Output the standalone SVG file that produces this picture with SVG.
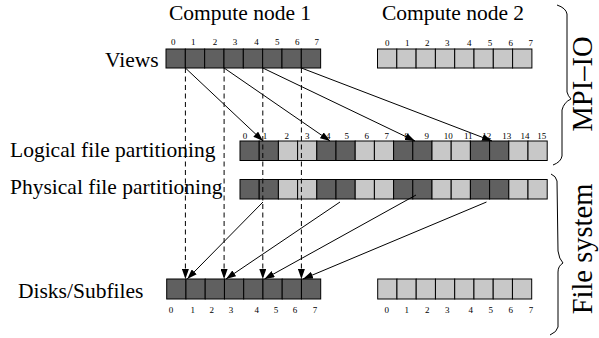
<svg xmlns="http://www.w3.org/2000/svg" width="599" height="338" viewBox="0 0 599 338">
<defs>
<marker id="ah" markerUnits="userSpaceOnUse" markerWidth="10" markerHeight="7" refX="10" refY="3.5" orient="auto">
<path d="M0,0 L10,3.5 L0,7 z" fill="#000"/>
</marker>
<style>
.d{fill:#606060;stroke:#000;stroke-width:1}
.l{fill:#c8c8c8;stroke:#000;stroke-width:1}
.t{font-family:"Liberation Serif","Times New Roman",serif;font-size:21.5px;fill:#000}
.n{font-family:"Liberation Serif","Times New Roman",serif;font-size:9px;fill:#000;text-anchor:middle}
.big{font-family:"Liberation Serif","Times New Roman",serif;font-size:28.5px;fill:#000;text-anchor:middle}
.c{fill:none;stroke:#000;stroke-width:1}
.dash{fill:none;stroke:#000;stroke-width:1;stroke-dasharray:5,3.5}
.br{fill:none;stroke:#000;stroke-width:1}
</style>
</defs>
<rect width="599" height="338" fill="#fff"/>

<g id="title1"><text class="t" x="169" y="20">Compute node 1</text></g>
<g id="title2"><text class="t" x="382" y="20">Compute node 2</text></g>

<g id="views1">
<text class="t" x="105" y="66.5">Views</text>
<rect class="d" x="166" y="49" width="19.33" height="19"/>
<rect class="d" x="185.33" y="49" width="19.33" height="19"/>
<rect class="d" x="204.66" y="49" width="19.33" height="19"/>
<rect class="d" x="223.99" y="49" width="19.33" height="19"/>
<rect class="d" x="243.32" y="49" width="19.33" height="19"/>
<rect class="d" x="262.65" y="49" width="19.33" height="19"/>
<rect class="d" x="281.98" y="49" width="19.33" height="19"/>
<rect class="d" x="301.31" y="49" width="19.33" height="19"/>
<text class="n" x="173.3" y="44.5">0</text><text class="n" x="193.3" y="44.5">1</text><text class="n" x="215" y="44.5">2</text><text class="n" x="235" y="44.5">3</text><text class="n" x="256.5" y="44.5">4</text><text class="n" x="277.3" y="44.5">5</text><text class="n" x="297.3" y="44.5">6</text><text class="n" x="316.7" y="44.5">7</text>
</g>

<g id="views2">
<rect class="l" x="377.5" y="49" width="19.3" height="19"/>
<rect class="l" x="396.8" y="49" width="19.3" height="19"/>
<rect class="l" x="416.1" y="49" width="19.3" height="19"/>
<rect class="l" x="435.4" y="49" width="19.3" height="19"/>
<rect class="l" x="454.7" y="49" width="19.3" height="19"/>
<rect class="l" x="474" y="49" width="19.3" height="19"/>
<rect class="l" x="493.3" y="49" width="19.3" height="19"/>
<rect class="l" x="512.6" y="49" width="19.3" height="19"/>
<text class="n" x="387.3" y="46">0</text><text class="n" x="407.3" y="46">1</text><text class="n" x="427.3" y="46">2</text><text class="n" x="447.3" y="46">3</text><text class="n" x="469.3" y="46">4</text><text class="n" x="490" y="46">5</text><text class="n" x="510.7" y="46">6</text><text class="n" x="530.7" y="46">7</text>
</g>

<g id="logical">
<text class="t" x="10" y="156.7">Logical file partitioning</text>
<rect class="d" x="240" y="141" width="19.2" height="19.5"/>
<rect class="d" x="259.2" y="141" width="19.2" height="19.5"/>
<rect class="l" x="278.4" y="141" width="19.2" height="19.5"/>
<rect class="l" x="297.6" y="141" width="19.2" height="19.5"/>
<rect class="d" x="316.8" y="141" width="19.2" height="19.5"/>
<rect class="d" x="336" y="141" width="19.2" height="19.5"/>
<rect class="l" x="355.2" y="141" width="19.2" height="19.5"/>
<rect class="l" x="374.4" y="141" width="19.2" height="19.5"/>
<rect class="d" x="393.6" y="141" width="19.2" height="19.5"/>
<rect class="d" x="412.8" y="141" width="19.2" height="19.5"/>
<rect class="l" x="432" y="141" width="19.2" height="19.5"/>
<rect class="l" x="451.2" y="141" width="19.2" height="19.5"/>
<rect class="d" x="470.4" y="141" width="19.2" height="19.5"/>
<rect class="d" x="489.6" y="141" width="19.2" height="19.5"/>
<rect class="l" x="508.8" y="141" width="19.2" height="19.5"/>
<rect class="l" x="528" y="141" width="19.2" height="19.5"/>
<text class="n" x="245" y="138.5">0</text><text class="n" x="265" y="138.5">1</text><text class="n" x="286.7" y="138.5">2</text><text class="n" x="307.3" y="138.5">3</text><text class="n" x="328.3" y="138.5">4</text><text class="n" x="346.7" y="138.5">5</text><text class="n" x="366.7" y="138.5">6</text><text class="n" x="386.7" y="138.5">7</text><text class="n" x="406.7" y="138.5">8</text><text class="n" x="426.7" y="138.5">9</text><text class="n" x="448.3" y="138.5">10</text><text class="n" x="468.3" y="138.5">11</text><text class="n" x="486.7" y="138.5">12</text><text class="n" x="506.7" y="138.5">13</text><text class="n" x="525" y="138.5">14</text><text class="n" x="541.7" y="138.5">15</text>
</g>

<g id="physical">
<text class="t" x="10" y="194">Physical file partitioning</text>
<rect class="d" x="240" y="179.5" width="19.2" height="19.5"/>
<rect class="d" x="259.2" y="179.5" width="19.2" height="19.5"/>
<rect class="l" x="278.4" y="179.5" width="19.2" height="19.5"/>
<rect class="l" x="297.6" y="179.5" width="19.2" height="19.5"/>
<rect class="d" x="316.8" y="179.5" width="19.2" height="19.5"/>
<rect class="d" x="336" y="179.5" width="19.2" height="19.5"/>
<rect class="l" x="355.2" y="179.5" width="19.2" height="19.5"/>
<rect class="l" x="374.4" y="179.5" width="19.2" height="19.5"/>
<rect class="d" x="393.6" y="179.5" width="19.2" height="19.5"/>
<rect class="d" x="412.8" y="179.5" width="19.2" height="19.5"/>
<rect class="l" x="432" y="179.5" width="19.2" height="19.5"/>
<rect class="l" x="451.2" y="179.5" width="19.2" height="19.5"/>
<rect class="d" x="470.4" y="179.5" width="19.2" height="19.5"/>
<rect class="d" x="489.6" y="179.5" width="19.2" height="19.5"/>
<rect class="l" x="508.8" y="179.5" width="19.2" height="19.5"/>
<rect class="l" x="528" y="179.5" width="19.2" height="19.5"/>
</g>

<g id="disks1">
<text class="t" x="18" y="298.3">Disks/Subfiles</text>
<rect class="d" x="166.7" y="279" width="19.25" height="20"/>
<rect class="d" x="185.95" y="279" width="19.25" height="20"/>
<rect class="d" x="205.2" y="279" width="19.25" height="20"/>
<rect class="d" x="224.45" y="279" width="19.25" height="20"/>
<rect class="d" x="243.7" y="279" width="19.25" height="20"/>
<rect class="d" x="262.95" y="279" width="19.25" height="20"/>
<rect class="d" x="282.2" y="279" width="19.25" height="20"/>
<rect class="d" x="301.45" y="279" width="19.25" height="20"/>
<text class="n" x="171" y="313">0</text><text class="n" x="192.7" y="313">1</text><text class="n" x="211.7" y="313">2</text><text class="n" x="231" y="313">3</text><text class="n" x="256.7" y="313">4</text><text class="n" x="276" y="313">5</text><text class="n" x="295" y="313">6</text><text class="n" x="315" y="313">7</text>
</g>

<g id="disks2">
<rect class="l" x="377.7" y="279" width="19.25" height="20"/>
<rect class="l" x="396.95" y="279" width="19.25" height="20"/>
<rect class="l" x="416.2" y="279" width="19.25" height="20"/>
<rect class="l" x="435.45" y="279" width="19.25" height="20"/>
<rect class="l" x="454.7" y="279" width="19.25" height="20"/>
<rect class="l" x="473.95" y="279" width="19.25" height="20"/>
<rect class="l" x="493.2" y="279" width="19.25" height="20"/>
<rect class="l" x="512.45" y="279" width="19.25" height="20"/>
<text class="n" x="386.7" y="313">0</text><text class="n" x="406.7" y="313">1</text><text class="n" x="427.3" y="313">2</text><text class="n" x="447.3" y="313">3</text><text class="n" x="470.7" y="313">4</text><text class="n" x="490.7" y="313">5</text><text class="n" x="510.7" y="313">6</text><text class="n" x="531" y="313">7</text>
</g>

<g id="connectors">
<line class="dash" x1="185.4" y1="68" x2="185.4" y2="279" marker-end="url(#ah)"/>
<line class="dash" x1="224.1" y1="68" x2="224.1" y2="279" marker-end="url(#ah)"/>
<line class="dash" x1="262.8" y1="68" x2="262.8" y2="279" marker-end="url(#ah)"/>
<line class="dash" x1="301.4" y1="68" x2="301.4" y2="279" marker-end="url(#ah)"/>
<line class="c" x1="185.4" y1="68" x2="263" y2="141" marker-end="url(#ah)"/>
<line class="c" x1="224.1" y1="68" x2="330" y2="141" marker-end="url(#ah)"/>
<line class="c" x1="262.8" y1="68" x2="415" y2="141" marker-end="url(#ah)"/>
<line class="c" x1="301.4" y1="68" x2="492" y2="141" marker-end="url(#ah)"/>
<line class="c" x1="263" y1="202" x2="187.2" y2="279" marker-end="url(#ah)"/>
<line class="c" x1="340" y1="202" x2="226" y2="279" marker-end="url(#ah)"/>
<line class="c" x1="416" y1="195" x2="264.5" y2="279" marker-end="url(#ah)"/>
<line class="c" x1="486.5" y1="202" x2="303" y2="279" marker-end="url(#ah)"/>
</g>

<g id="mpiio">
<path class="br" d="M557,5 Q566,8 567,14 L567,92 Q568,96 571,99 Q564,102 562,110 L562,156 Q561,162 553,165"/>
<text class="big" transform="translate(592,84) rotate(-90)">MPI–IO</text>
</g>

<g id="filesystem">
<path class="br" d="M551,174 Q556,176 557,181 L558,251 Q559,259 563,263 Q558,266 558,272 L558,327 Q557,332 550,335"/>
<text class="big" transform="translate(592,249) rotate(-90)">File system</text>
</g>
</svg>
